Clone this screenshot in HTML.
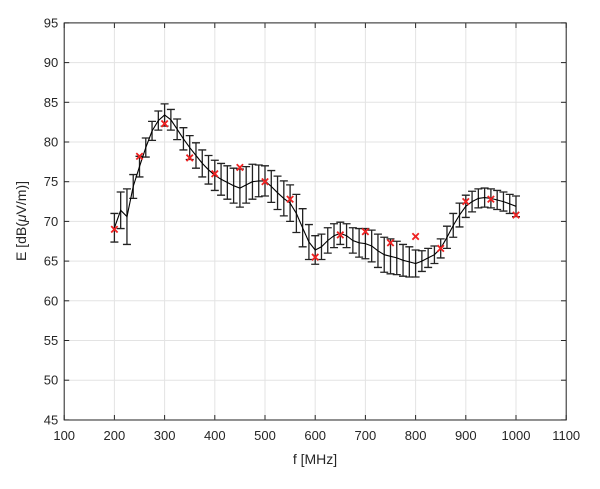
<!DOCTYPE html>
<html><head><meta charset="utf-8"><style>
html,body{margin:0;padding:0;background:#fff}
svg text{font-family:"Liberation Sans",Arial,sans-serif;fill:#262626}
</style></head><body>
<svg id="s" width="600" height="484" xmlns="http://www.w3.org/2000/svg"></svg>
<script>
const s=document.getElementById('s');
const X0=64.2,XS=0.502,Y0=102.3,YS=7.94;
const px=f=>X0+(f-100)*XS, py=v=>Y0+(85-v)*YS;
let h='<rect width="600" height="484" fill="#fff"/>';
for(let f=100;f<=1100;f+=100){const x=px(f);h+=`<line x1="${x}" y1="22.9" x2="${x}" y2="420" stroke="#e3e3e3"/>`;
h+=`<line x1="${x}" y1="420" x2="${x}" y2="415" stroke="#262626"/><line x1="${x}" y1="22.9" x2="${x}" y2="28" stroke="#262626"/>`;
h+=`<text x="${x}" y="440" font-size="13" text-anchor="middle">${f}</text>`;}
for(let v=45;v<=95;v+=5){const y=py(v);h+=`<line x1="${X0}" y1="${y}" x2="566.2" y2="${y}" stroke="#e3e3e3"/>`;
h+=`<line x1="${X0}" y1="${y}" x2="${X0+5}" y2="${y}" stroke="#262626"/><line x1="566.2" y1="${y}" x2="561" y2="${y}" stroke="#262626"/>`;
h+=`<text x="${X0-6}" y="${y+4.5}" font-size="13" text-anchor="end">${v}</text>`;}
h+=`<rect x="${X0}" y="22.9" width="${566.2-X0}" height="${420-22.9}" fill="none" stroke="#262626"/>`;
const K=[[200,69.2,1.8],[212.5,71.4,2.3],[225,70.6,3.5],[237.5,74.4,1.5],[250,76.9,1.3],[262.5,79.3,1.2],[275,81.4,1.2],[287.5,82.7,1.2],[300,83.4,1.4],[312.5,82.8,1.3],[325,81.6,1.3],[337.5,80.4,1.4],[350,79.3,1.5],[362.5,78.3,1.6],[375,77.3,1.7],[387.5,76.5,1.8],[400,75.8,1.9],[412.5,75.3,2],[425,74.9,2.1],[437.5,74.5,2.2],[450,74.2,2.4],[462.5,74.6,2.3],[475,75,2.2],[487.5,75.1,2],[500,75.1,1.9],[512.5,74.4,2],[525,73.6,2.1],[537.5,72.9,2.2],[550,72.3,2.3],[562.5,71,2.4],[575,69.2,2.4],[587.5,67.4,2.2],[600,66.4,1.8],[612.5,66.8,1.6],[625,67.6,1.6],[637.5,68.2,1.5],[650,68.5,1.4],[662.5,68.2,1.5],[675,67.6,1.6],[687.5,67.3,1.8],[700,67.2,1.9],[712.5,66.9,2],[725,66.3,2.1],[737.5,65.8,2.2],[750,65.6,2.2],[762.5,65.4,2.1],[775,65.1,2],[787.5,64.9,1.9],[800,64.7,1.7],[812.5,65,1.3],[825,65.4,1.2],[837.5,65.8,1.1],[850,66.6,1.2],[862.5,68,1.4],[875,69.5,1.5],[887.5,70.8,1.5],[900,71.9,1.4],[912.5,72.5,1.3],[925,72.9,1.2],[937.5,73,1.2],[950,72.9,1.2],[962.5,72.7,1.2],[975,72.5,1.2],[987.5,72.2,1.2],[1000,71.9,1.3]];
let d='';K.forEach((k,i)=>{d+=(i?'L':'M')+px(k[0]).toFixed(1)+','+py(k[1]).toFixed(1)});
K.forEach(k=>{const x=px(k[0]),a=py(k[1]+k[2]),b=py(k[1]-k[2]);
h+=`<path d="M${x},${a}V${b}M${x-4},${a}H${x+4}M${x-4},${b}H${x+4}" stroke="#222" stroke-width="1.3" fill="none"/>`;});
h+=`<path d="${d}" stroke="#000" stroke-width="1.1" fill="none"/>`;
const M=[[200,69],[250,78.2],[300,82.3],[350,78],[400,76],[450,76.8],[500,75],[550,72.8],[600,65.5],[650,68.3],[700,68.7],[750,67.3],[800,68.1],[850,66.6],[900,72.5],[950,72.8],[1000,70.8]];
M.forEach(m=>{const x=px(m[0]),y=py(m[1]);h+=`<path d="M${x-3.2},${y-3.2}L${x+3.2},${y+3.2}M${x-3.2},${y+3.2}L${x+3.2},${y-3.2}" stroke="#ee2222" stroke-width="1.8"/>`;});
h+=`<text x="315" y="464" font-size="14" text-anchor="middle">f [MHz]</text>`;
h+=`<text transform="translate(26,221) rotate(-90)" font-size="14" text-anchor="middle">E [dB(<tspan font-style="italic">μ</tspan>V/m)]</text>`;
s.innerHTML=h;
</script>
</body></html>
